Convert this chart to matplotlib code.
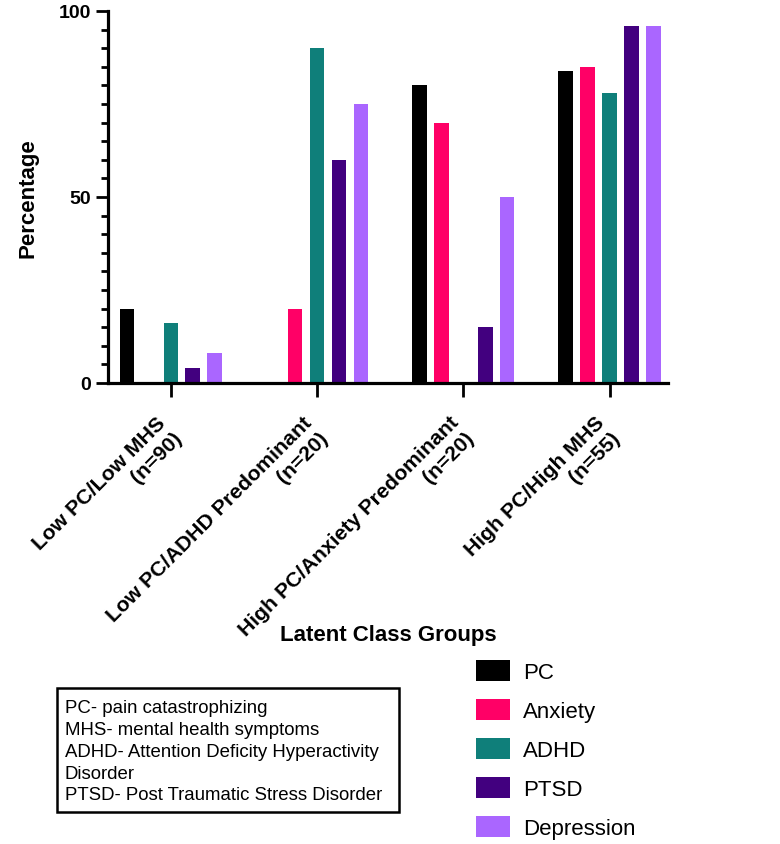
import matplotlib
matplotlib.use("Agg")
import matplotlib.pyplot as plt
import matplotlib.transforms as mtransforms
import numpy as np
from matplotlib.patches import Patch, Rectangle
from matplotlib.ticker import MultipleLocator

plt.rcParams['font.family'] = ['Liberation Sans', 'DejaVu Sans']

groups = ["Low PC/Low MHS\n(n=90)", "Low PC/ADHD Predominant\n(n=20)",
          "High PC/Anxiety Predominant\n(n=20)", "High PC/High MHS\n(n=55)"]
series = ["PC", "Anxiety", "ADHD", "PTSD", "Depression"]
pc = [20, 0, 80, 84]
anxiety = [0, 20, 70, 85]
adhd = [16, 90, 0, 78]
ptsd = [4, 60, 15, 96]
depression = [8, 75, 50, 96]
colors = ["#000000", "#FF0066", "#0F7F7A", "#42007F", "#AA66FF"]
abbrev = ["PC- pain catastrophizing", "MHS- mental health symptoms",
          "ADHD- Attention Deficity Hyperactivity", "Disorder",
          "PTSD- Post Traumatic Stress Disorder"]

values = [pc, anxiety, adhd, ptsd, depression]

W, H = 780, 845
fig = plt.figure(figsize=(W / 100, H / 100), dpi=100)
ax = fig.add_axes([108 / W, 1 - 384 / H, 560 / W, 372 / H])

x = np.arange(len(groups))
step = 0.15
bw = 0.1
for i, (vals, c) in enumerate(zip(values, colors)):
    ax.bar(x + (i - 2) * step, vals, width=bw, color=c, label=series[i], zorder=2)

ax.set_xlim(-0.43, 3.40)
ax.set_ylim(0, 100)
ax.set_yticks([0, 50, 100])
ax.yaxis.set_minor_locator(MultipleLocator(5))
ax.set_xticks(x)
ax.set_xticklabels([])
# rotated category labels, anchored below each tick
offset = mtransforms.ScaledTranslation(0 / 100, -44 / 100, fig.dpi_scale_trans)
trans = ax.get_xaxis_transform() + offset
for xi, g in zip(x, groups):
    ax.text(xi, 0, g, transform=trans, rotation=45, ha='right', va='center',
            rotation_mode='anchor', multialignment='right',
            fontsize=15.3, fontweight='bold', clip_on=False)

for lab in ax.get_yticklabels():
    lab.set_fontweight('bold')
ax.tick_params(axis='y', which='major', labelsize=14, length=9, width=2, pad=3)
ax.tick_params(axis='y', which='minor', length=5, width=2)
ax.tick_params(axis='x', which='major', length=10, width=2, pad=8)

for s in ['top', 'right']:
    ax.spines[s].set_visible(False)
for s in ['left', 'bottom']:
    ax.spines[s].set_linewidth(2.3)

ax.set_ylabel("Percentage", fontsize=16, fontweight='bold')
ax.yaxis.set_label_coords(-0.125, 0.5)

fig.text(388 / W, 1 - 636 / H, "Latent Class Groups", fontsize=16,
         fontweight='bold', ha='center', va='center')

# abbreviation box
fig.add_artist(Rectangle((57 / W, 1 - 813 / H), 342 / W, 124 / H,
                         transform=fig.transFigure, fill=False,
                         edgecolor='black', linewidth=1.8))
fig.text(65 / W, 1 - 700 / H, "\n".join(abbrev), fontsize=13.4, ha='left',
         va='top', linespacing=1.375)

handles = [Patch(facecolor=c, label=s) for c, s in zip(colors, series)]
fig.legend(handles=handles, loc='upper left',
           bbox_to_anchor=(476 / W, 1 - 661 / H), frameon=False,
           fontsize=16, handlelength=1.53, handleheight=1.1,
           labelspacing=0.71, borderpad=0, borderaxespad=0, handletextpad=0.6)

fig.savefig("out.png", dpi=100)
